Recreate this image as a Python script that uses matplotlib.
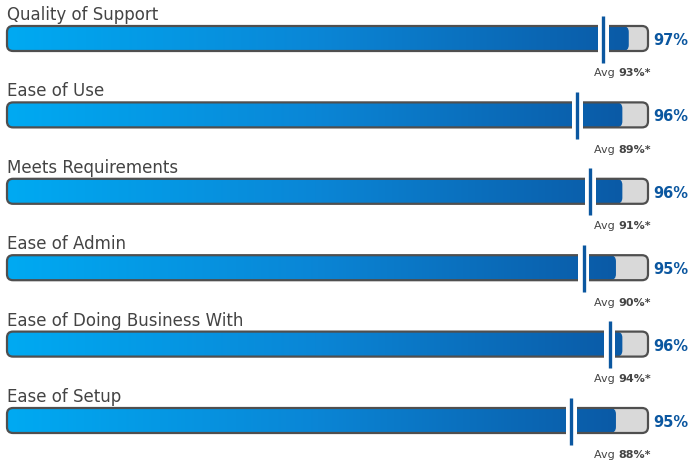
import numpy as np
from matplotlib import pyplot as plt
from matplotlib.patches import FancyBboxPatch, Rectangle
from matplotlib.colors import LinearSegmentedColormap

# data
labels = ["Quality of Support", "Ease of Use", "Meets Requirements",
          "Ease of Admin", "Ease of Doing Business With", "Ease of Setup"]
scores = [97, 96, 96, 95, 96, 95]
averages = [93, 89, 91, 90, 94, 88]

W, H = 695, 464
fig = plt.figure(figsize=(W / 100, H / 100), dpi=100)
ax = fig.add_axes([0, 0, 1, 1])
ax.axis('off')

# pixel layout -> data units
x0_px, x1_px = 7, 648            # track from 0% to 100%
pxx = (x1_px - x0_px) / 100.0    # px per percent
row0_px, row_step = 39.5, 76.4   # centre of first bar, spacing
ax.set_xlim(-x0_px / pxx, (W - x0_px) / pxx)
ax.set_ylim((H - row0_px) / row_step, -row0_px / row_step)

bar_h = 25 / row_step
aspect = pxx / row_step
rad = 6 / pxx

cmap = LinearSegmentedColormap.from_list("g", ["#00aaf2", "#0a86d6", "#0b5aa6"])
grad = np.linspace(0, 1, 256).reshape(1, -1)

border = "#4f4f4f"
blue = "#0b57a0"
grey_txt = "#444444"

for i, (lab, s, a) in enumerate(zip(labels, scores, averages)):
    y = i
    # track
    track = FancyBboxPatch((0, y - bar_h / 2), 100, bar_h,
                           boxstyle="round,pad=0,rounding_size=%f" % rad,
                           mutation_aspect=aspect, fc="#d9d9d9", ec="none", zorder=1)
    ax.add_patch(track)
    # gradient fill
    fill = FancyBboxPatch((0, y - bar_h / 2), s, bar_h,
                          boxstyle="round,pad=0,rounding_size=%f" % rad,
                          mutation_aspect=aspect, fc="none", ec="none", zorder=2)
    ax.add_patch(fill)
    im = ax.imshow(grad, cmap=cmap, aspect='auto', interpolation='bicubic',
                   extent=[0, s, y + bar_h / 2, y - bar_h / 2], zorder=2)
    im.set_clip_path(fill)
    # border
    ax.add_patch(FancyBboxPatch((0, y - bar_h / 2), 100, bar_h,
                                boxstyle="round,pad=0,rounding_size=%f" % rad,
                                mutation_aspect=aspect, fc="none", ec=border,
                                lw=1.6, zorder=3))
    # average marker
    gap = 11 / pxx
    ax.add_patch(Rectangle((a - gap / 2, y - bar_h / 2 - 2 / row_step), gap,
                           bar_h + 4 / row_step, fc="white", ec="none", zorder=4))
    ax.plot([a, a], [y - 23 / row_step, y + 24 / row_step], color=blue,
            lw=2.4, solid_capstyle='butt', zorder=5)

    # texts
    ax.text(0, y - 19.5 / row_step, lab, fontsize=12, color=grey_txt,
            ha='left', va='baseline')
    ax.text((688 - x0_px) / pxx, y + 1 / row_step, "%d%%" % s, fontsize=10.5,
            color=blue, fontweight='bold', ha='right', va='center')
    t = ax.text((651 - x0_px) / pxx, y + 37 / row_step, "%d%%*" % a,
                fontsize=8, color=grey_txt, fontweight='bold', ha='right',
                va='baseline')
    fig.canvas.draw()
    bb = t.get_window_extent()
    xl = ax.transData.inverted().transform((bb.x0, bb.y0))[0]
    ax.text(xl, y + 37 / row_step, "Avg ", fontsize=8, color=grey_txt,
            ha='right', va='baseline')

plt.savefig("out.png", dpi=100)
